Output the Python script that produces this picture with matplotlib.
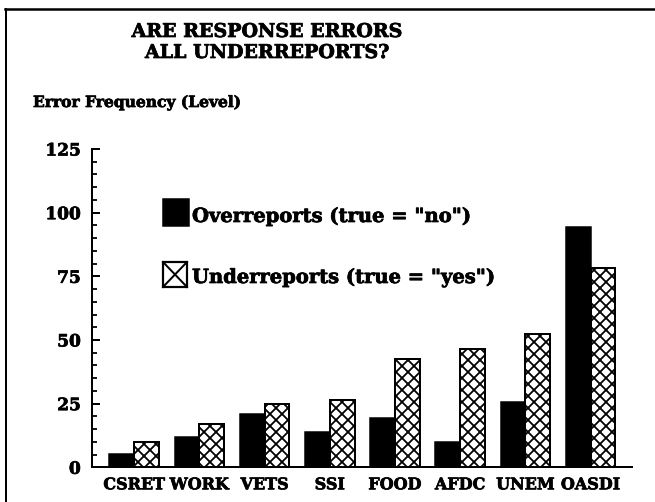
import matplotlib
matplotlib.use("Agg")
import matplotlib.pyplot as plt
import matplotlib.patheffects as pe
from matplotlib.lines import Line2D
from matplotlib.patches import Rectangle
import numpy as np

categories = ["CSRET", "WORK", "VETS", "SSI", "FOOD", "AFDC", "UNEM", "OASDI"]
overreports = [5.2, 12.0, 20.9, 14.0, 19.5, 9.8, 25.7, 94.2]
underreports = [10.1, 16.9, 25.0, 26.6, 42.4, 46.6, 52.4, 78.4]
yticks = [0, 25, 50, 75, 100, 125]
labels = ['Overreports (true = "no")', 'Underreports (true = "yes")']

plt.rcParams['font.family'] = ['DejaVu Serif']
plt.rcParams['font.weight'] = 'bold'
plt.rcParams['hatch.linewidth'] = 1.8
plt.rcParams['hatch.color'] = 'black'

heavy = [pe.withStroke(linewidth=0.7, foreground='black')]

W, H = 655, 502
fig = plt.figure(figsize=(W / 72, H / 72), dpi=72)
ax = fig.add_axes([91.7 / W, 1 - 467.3 / H, 540 / W, (467.3 - 149) / H])

x = np.arange(len(categories))
bw = 0.38
ax.bar(x - bw / 2, overreports, width=bw, color='black', edgecolor='black',
       linewidth=1.5)
ax.bar(x + bw / 2, underreports, width=bw, color='white', edgecolor='black',
       linewidth=2.0, hatch='xx')

ax.set_xlim(-0.65, 7.63)
ax.set_ylim(0, 125)
ax.set_yticks(yticks)
ax.set_yticks(np.arange(0, 126, 5), minor=True)
ax.set_xticks(x)
ax.set_xticklabels(categories, fontsize=16, fontweight='bold')
ax.set_yticklabels([str(t) for t in yticks], fontsize=17, fontweight='bold')
for t in ax.get_xticklabels() + ax.get_yticklabels():
    t.set_path_effects(heavy)
ax.tick_params(axis='y', which='major', direction='in', length=8, width=2, pad=11)
ax.tick_params(axis='y', which='minor', direction='in', length=5, width=1.8)
ax.tick_params(axis='x', length=0, pad=9)
for s in ['top', 'right']:
    ax.spines[s].set_visible(False)
ax.spines['left'].set_linewidth(2)
ax.spines['bottom'].set_linewidth(2)

# legend drawn manually (pixel layout)
def fx(px):
    return px / W

def fy(py):
    return 1 - py / H

fig.add_artist(Rectangle((fx(163), fy(226)), 26 / W, 27 / H, facecolor='black',
                         edgecolor='black', linewidth=1.5, transform=fig.transFigure))
fig.add_artist(Rectangle((fx(163), fy(287)), 24 / W, 25 / H, facecolor='white',
                         edgecolor='black', linewidth=2.2, transform=fig.transFigure))
fig.add_artist(Line2D([fx(163), fx(187)], [fy(287), fy(262)], color='black',
                      linewidth=2, transform=fig.transFigure))
fig.add_artist(Line2D([fx(163), fx(187)], [fy(262), fy(287)], color='black',
                      linewidth=2, transform=fig.transFigure))
fig.text(fx(192), fy(222), labels[0], ha='left', va='baseline', fontsize=19.5,
         fontweight='bold', path_effects=heavy)
fig.text(fx(192), fy(283), labels[1], ha='left', va='baseline', fontsize=19.5,
         fontweight='bold', path_effects=heavy)

fig.text(fx(267), fy(37), "ARE RESPONSE ERRORS", ha='center', va='baseline',
         fontsize=19, fontweight='bold', path_effects=heavy)
fig.text(fx(267), fy(58), "ALL UNDERREPORTS?", ha='center', va='baseline',
         fontsize=19, fontweight='bold', path_effects=heavy)
fig.text(fx(33), fy(107), "Error Frequency (Level)", ha='left',
         va='baseline', fontsize=15.5, fontweight='bold', path_effects=heavy)

# border lines (top and left)
fig.add_artist(Line2D([fx(5), 1.0], [fy(9), fy(9)], color='black',
                      linewidth=2.5, transform=fig.transFigure))
fig.add_artist(Line2D([fx(6), fx(6)], [fy(9), 0.0], color='black',
                      linewidth=2, transform=fig.transFigure))

fig.savefig("out.png", dpi=72)
